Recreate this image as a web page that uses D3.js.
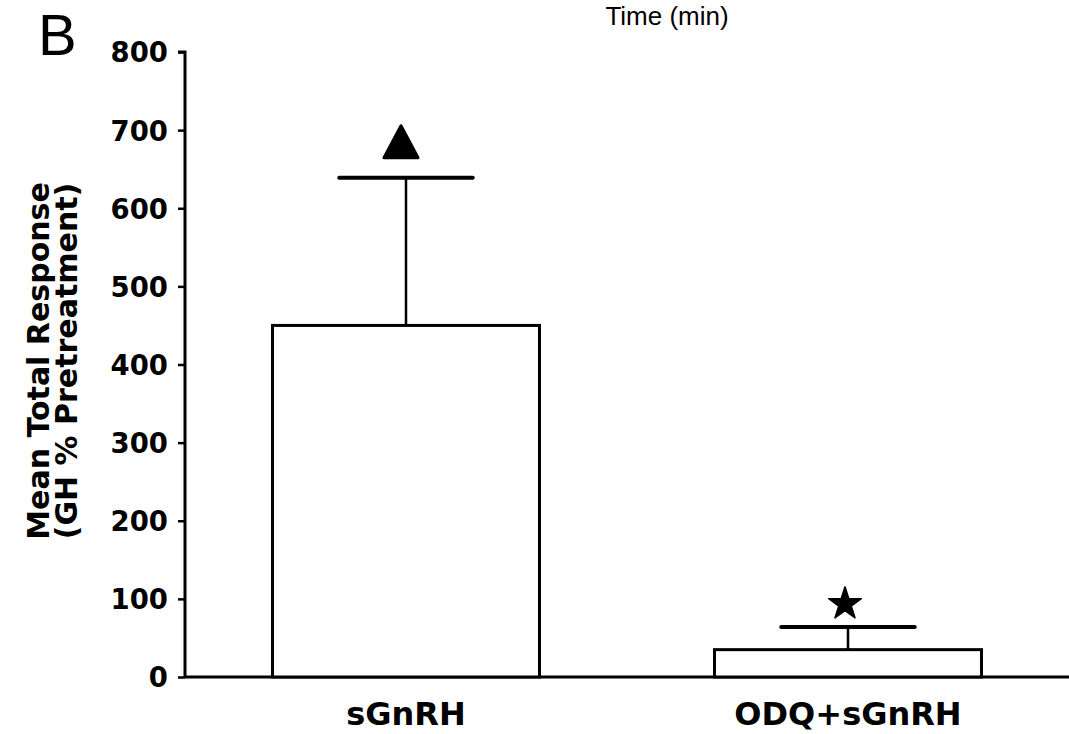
<!DOCTYPE html>
<html>
<head>
<meta charset="utf-8">
<script src="https://cdn.jsdelivr.net/npm/d3@7"></script>
<style>
  html, body { margin: 0; padding: 0; background: #fff; }
  svg { display: block; }
  text { fill: #000; }
  .reg { font-family: "Liberation Sans", Arial, Helvetica, sans-serif; }
  .bold { font-family: "DejaVu Sans", Verdana, sans-serif; font-weight: bold; }
</style>
</head>
<body>
<svg id="chart" width="1069" height="734"></svg>
<script>
// Mean total GH response for each treatment group
const categories = ["sGnRH", "ODQ+sGnRH"];
const meanValues = [450, 35];
const semValues = [189, 29];
const markers = ["triangle", "star"];
const yTicks = [0, 100, 200, 300, 400, 500, 600, 700, 800];

const svg = d3.select("#chart");
const plotLeft = 185, plotRight = 1069, plotTop = 52, plotBottom = 677;

const x = d3.scaleBand()
  .domain(categories)
  .range([plotLeft, plotRight])
  .paddingInner(0.396)
  .paddingOuter(0.198);

const y = d3.scaleLinear().domain([0, 800]).range([plotBottom, plotTop]);

// Panel letter and the axis title belonging to the panel above
svg.append("text").attr("class", "reg").attr("x", 38).attr("y", 55)
  .attr("font-size", 58).text("B");
svg.append("text").attr("class", "reg").attr("x", 667).attr("y", 25)
  .attr("text-anchor", "middle").attr("font-size", 26).text("Time (min)");

// Y axis
const yAxis = d3.axisLeft(y).tickValues(yTicks).tickSize(7).tickPadding(10)
  .tickFormat(d3.format("d"));
const gy = svg.append("g").attr("transform", `translate(${plotLeft},0)`).call(yAxis);
gy.attr("font-family", null).attr("font-size", null);
gy.select(".domain").attr("stroke", "#000").attr("stroke-width", 3)
  .attr("d", `M-7,${y(800)}H0V${y(0)}`);
gy.selectAll(".tick line").attr("stroke", "#000").attr("stroke-width", 2.5);
gy.selectAll(".tick text").attr("class", "bold").attr("font-size", 27.5)
  .attr("dy", "0.36em");

// X baseline
svg.append("line").attr("x1", plotLeft).attr("x2", plotRight)
  .attr("y1", y(0)).attr("y2", y(0))
  .attr("stroke", "#000").attr("stroke-width", 3);

// Y axis title (two lines)
const yt = svg.append("text").attr("class", "bold")
  .attr("transform", `translate(0,361) rotate(-90)`)
  .attr("text-anchor", "middle").attr("font-size", 30);
yt.append("tspan").attr("x", 0).attr("y", 49).text("Mean Total Response");
yt.append("tspan").attr("x", 0).attr("y", 77).text("(GH % Pretreatment)");

const data = categories.map((c, i) => ({ c, m: meanValues[i], s: semValues[i], mk: markers[i] }));

// Error bars (upper only)
const capHalf = x.bandwidth() * 0.25;
data.forEach(d => {
  const cx = x(d.c) + x.bandwidth() / 2;
  svg.append("line").attr("x1", cx).attr("x2", cx)
    .attr("y1", y(d.m)).attr("y2", y(d.m + d.s))
    .attr("stroke", "#000").attr("stroke-width", 2.5);
  svg.append("line").attr("x1", cx - capHalf).attr("x2", cx + capHalf)
    .attr("y1", y(d.m + d.s)).attr("y2", y(d.m + d.s))
    .attr("stroke", "#000").attr("stroke-width", 4).attr("stroke-linecap", "round");
});

// Bars
svg.selectAll("rect.bar").data(data).join("rect")
  .attr("class", "bar")
  .attr("x", d => x(d.c)).attr("width", x.bandwidth())
  .attr("y", d => y(d.m)).attr("height", d => y(0) - y(d.m))
  .attr("fill", "#fff").attr("stroke", "#000").attr("stroke-width", 3);

// Significance markers
data.forEach(d => {
  const cx = x(d.c) + x.bandwidth() / 2;
  const yy = y(d.m + d.s);
  if (d.mk === "triangle") {
    svg.append("path")
      .attr("d", `M${cx - 5},${yy - 52} L${cx + 12},${yy - 20} L${cx - 22},${yy - 20} Z`)
      .attr("fill", "#000").attr("stroke", "#000").attr("stroke-width", 3)
      .attr("stroke-linejoin", "round");
  } else {
    svg.append("path")
      .attr("d", d3.symbol().type(d3.symbolStar).size(330)())
      .attr("transform", `translate(${cx - 3},${yy - 23})`)
      .attr("fill", "#000").attr("stroke", "#000").attr("stroke-width", 1.5)
      .attr("stroke-linejoin", "round");
  }
});

// Category labels
svg.selectAll("text.cat").data(data).join("text")
  .attr("class", "cat bold")
  .attr("x", d => x(d.c) + x.bandwidth() / 2)
  .attr("y", 725)
  .attr("text-anchor", "middle").attr("font-size", 32)
  .text(d => d.c);
</script>
</body>
</html>
